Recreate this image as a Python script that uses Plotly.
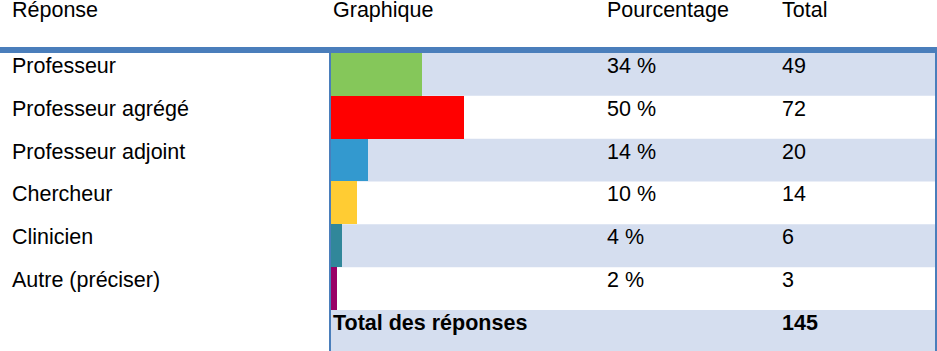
import plotly.graph_objects as go

# ---- data ----
categories = ["Professeur", "Professeur agrégé", "Professeur adjoint",
              "Chercheur", "Clinicien", "Autre (préciser)"]
totals = [49, 72, 20, 14, 6, 3]
pct_labels = ["34 %", "50 %", "14 %", "10 %", "4 %", "2 %"]
bar_colors = ["#85C75A", "#FF0000", "#3399CF", "#FFCC33", "#31879A", "#990066"]
headers = ["Réponse", "Graphique", "Pourcentage", "Total"]
total_label = "Total des réponses"
grand_total = 145

W, H = 937, 351
FONT = "Liberation Sans, Arial, sans-serif"
FS = 21.5
BORDER = "#4A7EBB"
STRIPE = "#D5DEEF"

pct_values = [t / grand_total * 100 for t in totals]
row_names = categories + [total_label]

fig = go.Figure()
fig.add_trace(go.Bar(
    x=pct_values, y=categories, orientation="h", width=1,
    marker=dict(color=bar_colors, line=dict(width=0)),
    hoverinfo="skip", showlegend=False,
))

# row geometry (pixels)
top = 53.0
rowh = 42.83
y_top_val = (0 - top) / rowh - 0.5
y_bot_val = (H - top) / rowh - 0.5

shapes = []
for i in range(len(row_names)):
    if i % 2 == 0:
        shapes.append(dict(type="rect", xref="paper", yref="y",
                           x0=331 / W, x1=935 / W, y0=i - 0.5, y1=i + 0.5,
                           fillcolor=STRIPE, line=dict(width=0), layer="below"))
# borders
shapes.append(dict(type="rect", xref="paper", yref="paper", x0=0, x1=1,
                   y0=1 - 53 / H, y1=1 - 47 / H, fillcolor=BORDER,
                   line=dict(width=0), layer="above"))
shapes.append(dict(type="rect", xref="paper", yref="paper", x0=329 / W, x1=331 / W,
                   y0=0, y1=1 - 47 / H, fillcolor=BORDER,
                   line=dict(width=0), layer="above"))
shapes.append(dict(type="rect", xref="paper", yref="paper", x0=935 / W, x1=1,
                   y0=0, y1=1 - 47 / H, fillcolor=BORDER,
                   line=dict(width=0), layer="above"))

col_x = [10, 331, 605, 780]
ann = []
for hx, h in zip(col_x, headers):
    ann.append(dict(text=h, xref="paper", yref="paper", x=hx / W, y=1 - 9.5 / H,
                    xanchor="left", yanchor="middle", showarrow=False,
                    font=dict(family=FONT, size=FS, color="black")))
YSHIFT = 8.5
for i, (c, p, t) in enumerate(zip(categories, pct_labels, totals)):
    for cx, txt in ((col_x[0], c), (col_x[2], p), (col_x[3], str(t))):
        ann.append(dict(text=txt, xref="paper", yref="y", x=cx / W, y=i,
                        xanchor="left", yanchor="middle", yshift=YSHIFT,
                        showarrow=False,
                        font=dict(family=FONT, size=FS, color="black")))
n = len(categories)
ann.append(dict(text="<b>" + total_label + "</b>", xref="paper", yref="y",
                x=col_x[1] / W, y=n, xanchor="left", yanchor="middle",
                yshift=YSHIFT, showarrow=False,
                font=dict(family=FONT, size=FS, color="black")))
ann.append(dict(text="<b>" + str(grand_total) + "</b>", xref="paper", yref="y",
                x=col_x[3] / W, y=n, xanchor="left", yanchor="middle",
                yshift=YSHIFT, showarrow=False,
                font=dict(family=FONT, size=FS, color="black")))

fig.update_layout(
    width=W, height=H, margin=dict(l=0, r=0, t=0, b=0),
    paper_bgcolor="white", plot_bgcolor="rgba(0,0,0,0)",
    xaxis=dict(domain=[331 / W, 599 / W], range=[0, 100], visible=False,
               fixedrange=True),
    yaxis=dict(type="category", categoryorder="array", categoryarray=row_names,
               range=[y_bot_val, y_top_val], visible=False, fixedrange=True),
    shapes=shapes, annotations=ann, bargap=0, hovermode=False,
)

fig.write_html("out.html")
